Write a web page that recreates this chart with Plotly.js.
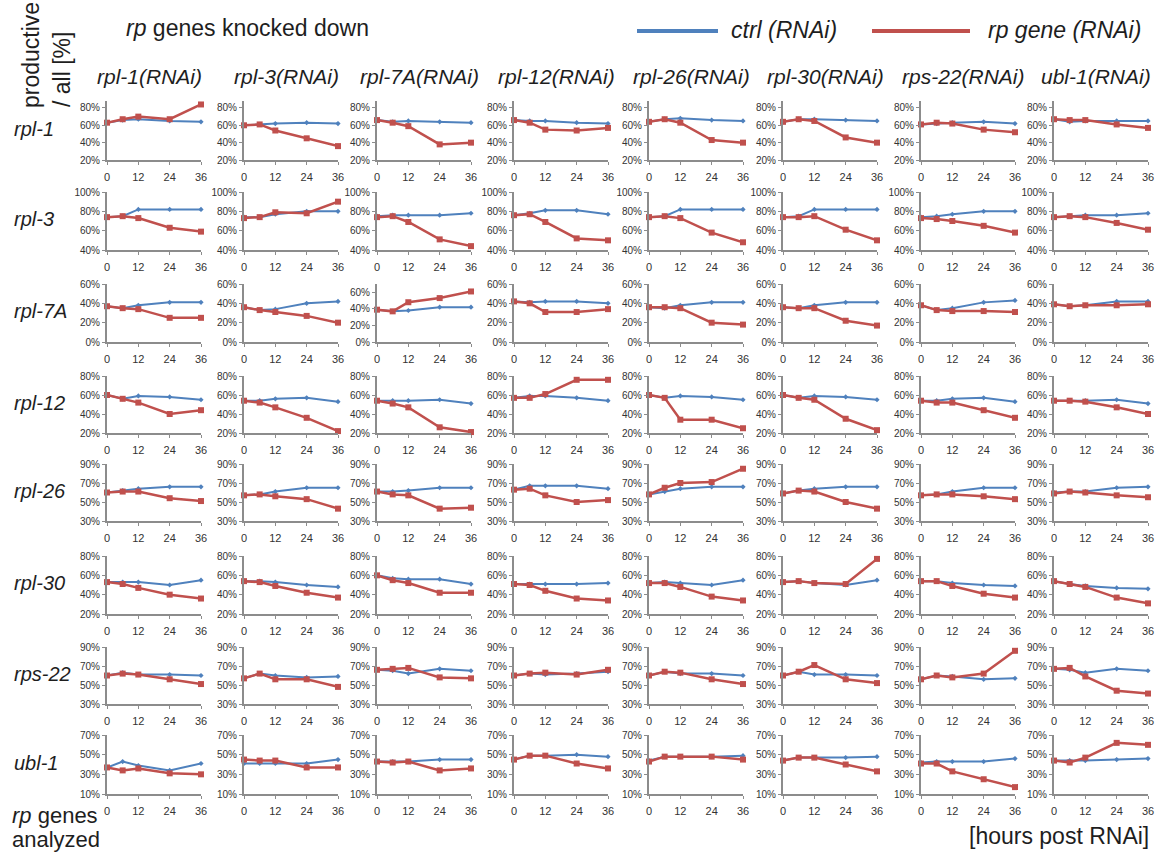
<!DOCTYPE html>
<html><head><meta charset="utf-8">
<script src="https://cdn.plot.ly/plotly-3.0.1.min.js"></script>
<style>html,body{margin:0;padding:0;background:#fff}#chart{width:1157px;height:854px}</style>
</head><body><div id="chart"></div>
<script>
const hours = [0, 6, 12, 24, 36];
const xTickVals = [0, 12, 24, 36];
const knockedDown = ['rpl-1', 'rpl-3', 'rpl-7A', 'rpl-12', 'rpl-26', 'rpl-30', 'rps-22', 'ubl-1'];
const analyzedGenes = ['rpl-1', 'rpl-3', 'rpl-7A', 'rpl-12', 'rpl-26', 'rpl-30', 'rps-22', 'ubl-1'];
const seriesNames = ['ctrl (RNAi)', 'rp gene (RNAi)'];

// y tick values per analyzed gene (row)
const yTicks = [
  [20, 40, 60, 80], [40, 60, 80, 100], [0, 20, 40, 60], [20, 40, 60, 80],
  [30, 50, 70, 90], [20, 40, 60, 80], [30, 50, 70, 90], [10, 30, 50, 70]
];

// values [%]: one array per analyzed gene, one inner list per knocked-down gene (columns)
const ctrl_rpl1 = [[63,66,67,65,64],[60,61,62,63,62],[66,64,65,64,63],[66,65,65,63,62],[64,67,68,66,65],[64,67,67,66,65],[61,62,63,64,62],[67,64,65,65,65]];
const rnai_rpl1 = [[63,67,70,67,84],[60,61,54,45,36],[66,63,59,38,40],[66,63,55,54,57],[64,67,63,43,40],[64,67,65,46,40],[61,63,62,55,52],[67,66,66,61,57]];
const ctrl_rpl3 = [[74,75,82,82,82],[74,74,77,80,80],[75,76,76,76,78],[76,78,81,81,77],[74,75,82,82,82],[74,75,82,82,82],[74,75,77,80,80],[74,75,76,76,78]];
const rnai_rpl3 = [[74,75,73,63,59],[73,74,79,78,90],[74,75,69,51,44],[76,77,69,52,50],[74,75,73,58,48],[74,74,75,61,50],[73,72,70,65,58],[74,75,74,68,61]];
const ctrl_rpl7A = [[37,35,38,41,41],[36,33,34,40,42],[39,37,38,42,42],[42,41,42,42,40],[36,35,38,41,41],[36,35,38,41,41],[38,33,35,41,43],[39,37,38,42,42]];
const rnai_rpl7A = [[37,35,34,25,25],[36,33,31,27,20],[39,37,48,53,61],[42,40,31,31,34],[36,36,35,20,18],[36,35,35,22,17],[38,33,32,32,31],[39,37,38,38,39]];
const ctrl_rpl12 = [[60,56,59,58,55],[54,54,56,57,53],[54,54,54,55,51],[57,59,59,57,54],[60,57,59,58,55],[60,57,59,58,55],[54,54,56,57,53],[54,54,54,55,51]];
const rnai_rpl12 = [[60,56,52,40,44],[54,52,47,36,22],[54,51,47,26,21],[57,57,61,76,76],[60,57,34,34,25],[60,57,55,35,23],[54,52,52,44,36],[54,54,53,47,40]];
const ctrl_rpl26 = [[60,62,64,66,66],[57,58,61,65,65],[61,61,62,65,65],[63,67,67,67,64],[58,61,64,66,66],[59,62,64,66,66],[57,58,61,65,65],[60,61,61,65,66]];
const rnai_rpl26 = [[60,61,61,54,51],[57,58,56,53,43],[61,58,57,43,44],[63,64,57,50,52],[58,65,70,71,85],[59,62,61,50,43],[57,58,58,56,53],[59,61,60,57,55]];
const ctrl_rpl30 = [[53,53,53,50,55],[54,54,53,50,48],[60,57,56,56,51],[51,51,51,51,52],[52,53,52,50,55],[53,54,52,50,55],[54,54,52,50,49],[54,51,49,47,46]];
const rnai_rpl30 = [[53,51,47,40,36],[54,53,49,42,37],[60,55,52,42,42],[51,50,44,36,34],[52,52,48,38,34],[53,54,52,51,77],[54,54,49,41,37],[54,51,48,37,31]];
const ctrl_rps22 = [[60,63,61,61,60],[57,62,60,58,59],[66,65,62,67,65],[60,62,61,62,64],[60,64,62,62,60],[60,64,61,61,60],[56,60,59,56,57],[67,66,63,67,65]];
const rnai_rps22 = [[60,62,61,56,51],[57,62,56,56,48],[66,67,68,58,57],[60,62,63,61,66],[60,64,63,56,51],[60,64,71,56,52],[56,60,58,62,86],[67,68,59,44,41]];
const ctrl_ubl1 = [[37,43,39,34,41],[41,41,41,41,45],[43,43,43,45,45],[45,49,49,50,48],[44,48,48,48,49],[44,47,47,47,48],[42,43,43,43,46],[44,44,44,45,46]];
const rnai_ubl1 = [[37,34,36,31,30],[45,44,44,37,37],[43,42,43,34,36],[45,49,49,41,36],[43,48,48,48,45],[44,47,47,40,33],[41,41,33,25,17],[44,42,47,62,60]];

const ctrlRows = [ctrl_rpl1, ctrl_rpl3, ctrl_rpl7A, ctrl_rpl12, ctrl_rpl26, ctrl_rpl30, ctrl_rps22, ctrl_ubl1];
const rnaiRows = [rnai_rpl1, rnai_rpl3, rnai_rpl7A, rnai_rpl12, rnai_rpl26, rnai_rpl30, rnai_rps22, rnai_ubl1];

// ---------- layout geometry (pixels) ----------
const W = 1157, H = 854;
const colLeft = [107, 244, 377, 514, 649, 783, 921, 1054];
const plotW = 94;
const rowTop = [101, 192, 284, 376, 464, 556, 647, 735];
const rowBot = [160, 250, 342, 433, 521, 614, 704, 794];
const px = x => x / W;
const py = y => 1 - y / H;

const BLUE = '#4f81bd', RED = '#c0504d', AXIS = '#8c8c8c';
const FONT = 'Liberation Sans, Arial, sans-serif';
const TXT = '#1e1e1e';

const traces = [];
const layout = {
  width: W, height: H,
  margin: {l: 0, r: 0, t: 0, b: 0},
  paper_bgcolor: '#fff', plot_bgcolor: 'rgba(0,0,0,0)',
  showlegend: false,
  font: {family: FONT, color: TXT},
  annotations: [], shapes: []
};

for (let r = 0; r < 8; r++) {
  for (let c = 0; c < 8; c++) {
    const k = r * 8 + c + 1;
    const xa = 'x' + (k > 1 ? k : ''), ya = 'y' + (k > 1 ? k : '');
    const xk = 'xaxis' + (k > 1 ? k : ''), yk = 'yaxis' + (k > 1 ? k : '');
    const ticks = yTicks[r];
    let ymin = ticks[0], ymax = ticks[ticks.length - 1];
    if (r === 0) ymax = 88;
    if (r === 2 && c === 2) ymax = 70;
    layout[xk] = {
      domain: [px(colLeft[c]), px(colLeft[c] + plotW)], anchor: ya,
      range: [0, 36], tickvals: xTickVals, ticktext: xTickVals.map(String),
      showgrid: false, zeroline: false, showline: true, linecolor: AXIS, linewidth: 2,
      ticks: 'outside', ticklen: 3, tickcolor: AXIS, tickwidth: 1, ticklabelstandoff: 3,
      tickfont: {size: 11, color: '#333', family: FONT}, fixedrange: true
    };
    layout[yk] = {
      domain: [py(rowBot[r]), py(rowTop[r])], anchor: xa,
      range: [ymin, ymax], tickvals: ticks, ticktext: ticks.map(v => v + '%'),
      showgrid: false, zeroline: false, showline: true, linecolor: AXIS, linewidth: 2,
      ticks: 'outside', ticklen: 3, tickcolor: AXIS, tickwidth: 1,
      tickfont: {size: 10, color: '#333', family: FONT}, fixedrange: true
    };
    traces.push({
      x: hours, y: ctrlRows[r][c], xaxis: xa, yaxis: ya, type: 'scatter', mode: 'lines+markers',
      name: seriesNames[0], line: {color: BLUE, width: 2}, marker: {color: BLUE, size: 4, symbol: 'diamond'},
      cliponaxis: false, hoverinfo: 'skip'
    });
    traces.push({
      x: hours, y: rnaiRows[r][c], xaxis: xa, yaxis: ya, type: 'scatter', mode: 'lines+markers',
      name: seriesNames[1], line: {color: RED, width: 2.5}, marker: {color: RED, size: 6, symbol: 'square'},
      cliponaxis: false, hoverinfo: 'skip'
    });
  }
}

const ann = layout.annotations;
const txt = (x, y, text, size, xanchor, extra) => ann.push(Object.assign({
  xref: 'paper', yref: 'paper', x: px(x), y: py(y), xanchor: xanchor, yanchor: 'middle',
  showarrow: false, text: text, font: {size: size, color: TXT, family: FONT}}, extra || {}));

// column headers
for (let c = 0; c < 8; c++) {
  txt(colLeft[c] + plotW / 2 - 5, 77, '<i>' + knockedDown[c] + '(RNAi)</i>', 21, 'center');
}
// row labels
for (let r = 0; r < 8; r++) {
  txt(12, (rowTop[r] + rowBot[r]) / 2 - 2, '<i>' + analyzedGenes[r] + '</i>', 20, 'left');
}
txt(124, 28, '<i>rp</i> genes knocked down', 23, 'left');
txt(31, 55, 'productive', 23, 'center', {textangle: -90});
txt(62, 70, '/ all [%]', 23, 'center', {textangle: -90});
txt(10, 815, '<i>rp</i> genes', 22, 'left');
txt(10, 839, 'analyzed', 22, 'left');
txt(1151, 836, '[hours post RNAi]', 23, 'right');
// legend
layout.shapes.push({type: 'line', xref: 'paper', yref: 'paper', x0: px(637), x1: px(718), y0: py(31), y1: py(31),
  line: {color: BLUE, width: 4}});
layout.shapes.push({type: 'line', xref: 'paper', yref: 'paper', x0: px(872), x1: px(970), y0: py(31), y1: py(31),
  line: {color: RED, width: 4}});
txt(729, 30, '<i>' + seriesNames[0] + '</i>', 23, 'left');
txt(986, 30, '<i>' + seriesNames[1] + '</i>', 23, 'left');

Plotly.newPlot('chart', traces, layout, {staticPlot: true, displayModeBar: false});
</script></body></html>
